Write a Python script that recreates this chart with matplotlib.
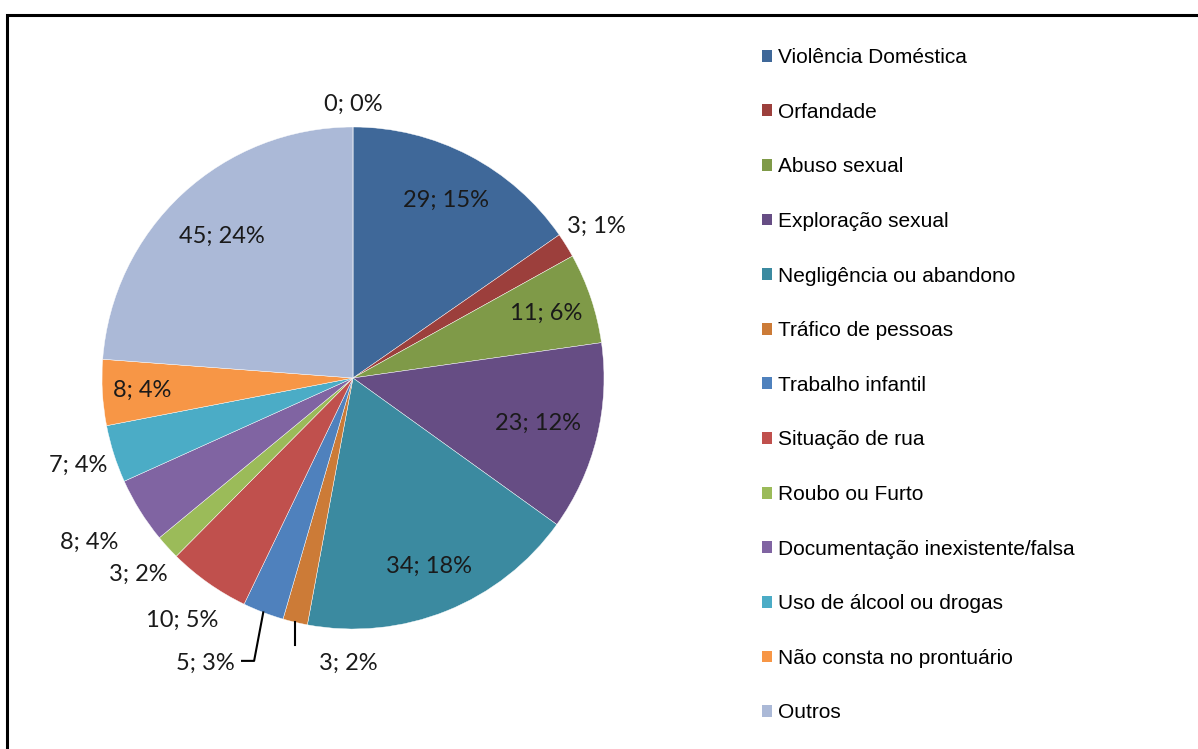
import numpy as np
import matplotlib
matplotlib.use("Agg")
from matplotlib import pyplot as plt
from matplotlib.patches import Patch, Rectangle

# motivos de acolhimento (contagem; rótulo percentual do gráfico)
categorias = ["Violência Doméstica", "Orfandade", "Abuso sexual", "Exploração sexual",
              "Negligência ou abandono", "Tráfico de pessoas", "Trabalho infantil",
              "Situação de rua", "Roubo ou Furto", "Documentação inexistente/falsa",
              "Uso de álcool ou drogas", "Não consta no prontuário", "Outros", ""]
valores = [29, 3, 11, 23, 34, 3, 5, 10, 3, 8, 7, 8, 45, 0]
percentuais = [15, 1, 6, 12, 18, 2, 3, 5, 2, 4, 4, 4, 24, 0]

cores = ["#3f6899", "#9c3f3c", "#7f9a48", "#664d84", "#3b8aa0", "#cc7b37",
         "#4f81bd", "#c0504d", "#9bbb59", "#8064a2", "#4bacc6", "#f79646",
         "#abb9d7", "#abb9d7"]

# distância do rótulo ao centro (em raios); None = rótulo com linha de chamada
dist_rotulo = [0.80, 1.14, 0.81, 0.76, 0.81, None, None, 1.18, 1.16, 1.24, 1.15, 0.84, 0.77, 1.09]

W, H = 1198, 749
fig = plt.figure(figsize=(W / 100, H / 100), dpi=100)

# eixo quadrado centrado no pie (centro ~ (353, 378) px, raio ~251 px)
cx, cy, R = 353, 378, 251
half = 353
ax = fig.add_axes([(cx - half) / W, (H - cy - half) / H, 2 * half / W, 2 * half / H])

wedges, _ = ax.pie(valores, colors=cores, startangle=90, counterclock=False,
                   radius=1.0, wedgeprops=dict(edgecolor="white", linewidth=0.3))

lim = half / R
ax.set_xlim(-lim, lim)
ax.set_ylim(-lim, lim)
ax.set_aspect("equal")
ax.axis("off")

fonte_rot = dict(family="Lato", fontsize=17, color="#1a1a1a", ha="center", va="center")

total = sum(valores)
acum = 0
for i, v in enumerate(valores):
    meio = (acum + v / 2) / total * 2 * np.pi
    acum += v
    texto = "%d; %d%%" % (v, percentuais[i])
    d = dist_rotulo[i]
    if d is not None:
        ax.text(d * np.sin(meio), d * np.cos(meio), texto, **fonte_rot)
    else:
        x0, y0 = np.sin(meio), np.cos(meio)
        if categorias[i] == "Tráfico de pessoas":
            ax.plot([x0, x0], [y0, -1.065], color="black", lw=1.5)
            ax.text(-0.02, -1.135, texto, **fonte_rot)
        else:
            ax.plot([x0, -0.394, -0.442], [y0, -1.127, -1.127], color="black", lw=1.5)
            ax.text(-0.59, -1.135, texto, **fonte_rot)

handles = [Patch(facecolor=c, edgecolor="none") for c in cores[:13]]
fig.legend(handles, categorias[:13], loc="upper left",
           bbox_to_anchor=(762 / W, 1 - 48 / H), frameon=False,
           prop=dict(family="Liberation Sans", size=15),
           handlelength=0.5, handleheight=0.5, handletextpad=0.25,
           labelspacing=1.71, borderpad=0, borderaxespad=0)

# moldura do gráfico
fig.patches.append(Rectangle((7 / W, -0.05), 1.2, 1 - 15 / H + 0.05,
                             transform=fig.transFigure, fill=False,
                             edgecolor="black", linewidth=2.2))

fig.savefig("out.png", dpi=100)
